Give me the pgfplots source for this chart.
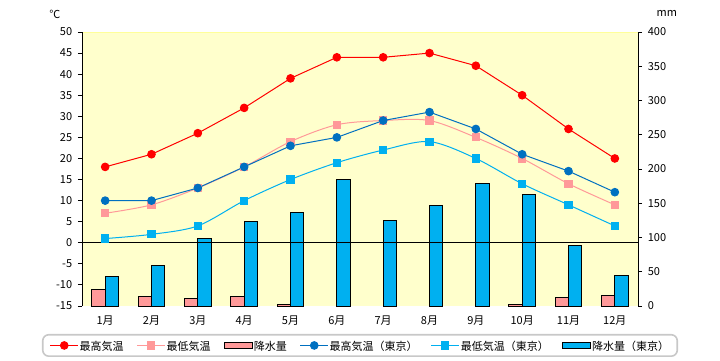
\documentclass[border=0pt]{standalone}
\usepackage{pgfplots}
\pgfplotsset{compat=1.18}
\usepackage{fontspec}
\setmainfont{Noto Sans CJK JP}
\definecolor{bg}{HTML}{FFFFCC}
\definecolor{topc}{HTML}{FFFF99}
\definecolor{redc}{HTML}{FF0000}
\definecolor{pinkc}{HTML}{FF9999}
\definecolor{bluec}{HTML}{0070C0}
\definecolor{lbluec}{HTML}{00B0F0}
\definecolor{legbd}{HTML}{C8C8C8}
\pgfplotsset{
  barlegend/.style={legend image code/.code={\draw[##1, sharp corners] (0pt,-3pt) rectangle (28pt,3pt);}},
  linelegend/.style={legend image code/.code={\draw[##1, sharp corners, mark repeat=2, mark phase=2] plot coordinates {(0pt,0pt)(14pt,0pt)(28pt,0pt)};}},
}
\begin{document}
\fontsize{11pt}{13pt}\selectfont
\begin{tikzpicture}
\path[use as bounding box] (0pt,0pt) rectangle (720pt,360pt);
% precipitation axis (right)
\begin{axis}[
  at={(82pt,54pt)}, anchor=south west,
  scale only axis, width=556pt, height=274pt,
  xmin=0.5, xmax=12.5, ymin=0, ymax=400,
  axis x line=none,
  axis y line*=right,
  ytick={0,50,...,400},
  axis background/.style={fill=bg},
  ybar, bar width=13.3pt,
  tick align=outside, major tick length=4pt,
  y axis line style={black, line width=1pt},
  ytick style={black, line width=1pt},
  /pgf/number format/assume math mode=true,
  yticklabel style={xshift=2pt},
]
\addplot[fill=pinkc, draw=black, line width=1pt, bar shift=-6.65pt]
  coordinates {(1,24.8)(2,14.1)(3,11.2)(4,14.1)(5,2.4)(10,2.4)(11,12.6)(12,15.6)};
\addplot[fill=lbluec, draw=black, line width=1pt, bar shift=6.65pt]
  coordinates {(1,43.3)(2,59.4)(3,98.8)(4,123.6)(5,136.8)(6,184)(7,125)(8,147)(9,179)(10,163)(11,88.6)(12,44.8)};
\draw[topc, line width=1pt] (rel axis cs:0,1) -- (rel axis cs:1,1);
\end{axis}
% temperature axis (left)
\begin{axis}[
  at={(82pt,54pt)}, anchor=south west,
  scale only axis, width=556pt, height=274pt,
  xmin=0.5, xmax=12.5, ymin=-15, ymax=50,
  axis y line*=left, axis x line*=bottom,
  x axis line style={draw=none},
  xtick={1,...,12},
  xticklabels={1月,2月,3月,4月,5月,6月,7月,8月,9月,10月,11月,12月},
  xtick style={draw=none},
  xticklabel style={yshift=-2pt},
  ytick={-15,-10,...,50},
  tick align=outside, major tick length=4pt,
  y axis line style={black, line width=1pt},
  ytick style={black, line width=1pt},
  yticklabel style={xshift=-2pt},
  /pgf/number format/assume math mode=true,
  linelegend,
  legend style={at={(0.5,-0.144)}, anchor=center, legend columns=6,
    draw=legbd, line width=1.6pt, rounded corners=6pt,
    inner xsep=7pt, inner ysep=4pt,
    /tikz/every even column/.style={column sep=12pt},
    nodes={inner xsep=1pt, text depth=0pt}},
  clip=false,
]
\addplot[black, line width=1pt, forget plot] coordinates {(0.5,0)(12.5,0)};
\addplot[redc, line width=1pt, mark=*, mark size=3.8pt, mark options={fill=redc, draw=redc}]
  coordinates {(1,18)(2,21)(3,26)(4,32)(5,39)(6,44)(7,44)(8,45)(9,42)(10,35)(11,27)(12,20)};
\addlegendentry{最高気温}
\addplot[pinkc, line width=1pt, smooth, tension=0.5, mark=square*, mark size=3.6pt, mark options={fill=pinkc, draw=pinkc}]
  coordinates {(1,7)(2,9)(3,13)(4,18)(5,24)(6,28)(7,29)(8,29)(9,25)(10,20)(11,14)(12,9)};
\addlegendentry{最低気温}
\addlegendimage{barlegend, fill=pinkc, draw=black, line width=1pt}
\addlegendentry{降水量}
\addplot[bluec, line width=1pt, mark=*, mark size=3.8pt, mark options={fill=bluec, draw=bluec}]
  coordinates {(1,10)(2,10)(3,13)(4,18)(5,23)(6,25)(7,29)(8,31)(9,27)(10,21)(11,17)(12,12)};
\addlegendentry{最高気温（東京）}
\addplot[lbluec, line width=1pt, smooth, tension=0.5, mark=square*, mark size=3.6pt, mark options={fill=lbluec, draw=lbluec}]
  coordinates {(1,1)(2,2)(3,4)(4,10)(5,15)(6,19)(7,22)(8,24)(9,20)(10,14)(11,9)(12,4)};
\addlegendentry{最低気温（東京）}
\addlegendimage{barlegend, fill=lbluec, draw=black, line width=1.5pt}
\addlegendentry{降水量（東京）}
\node[anchor=center] at (axis description cs:-0.049,1.066) {℃};
\node[anchor=center] at (axis description cs:1.052,1.066) {mm};
\end{axis}
\end{tikzpicture}
\end{document}
